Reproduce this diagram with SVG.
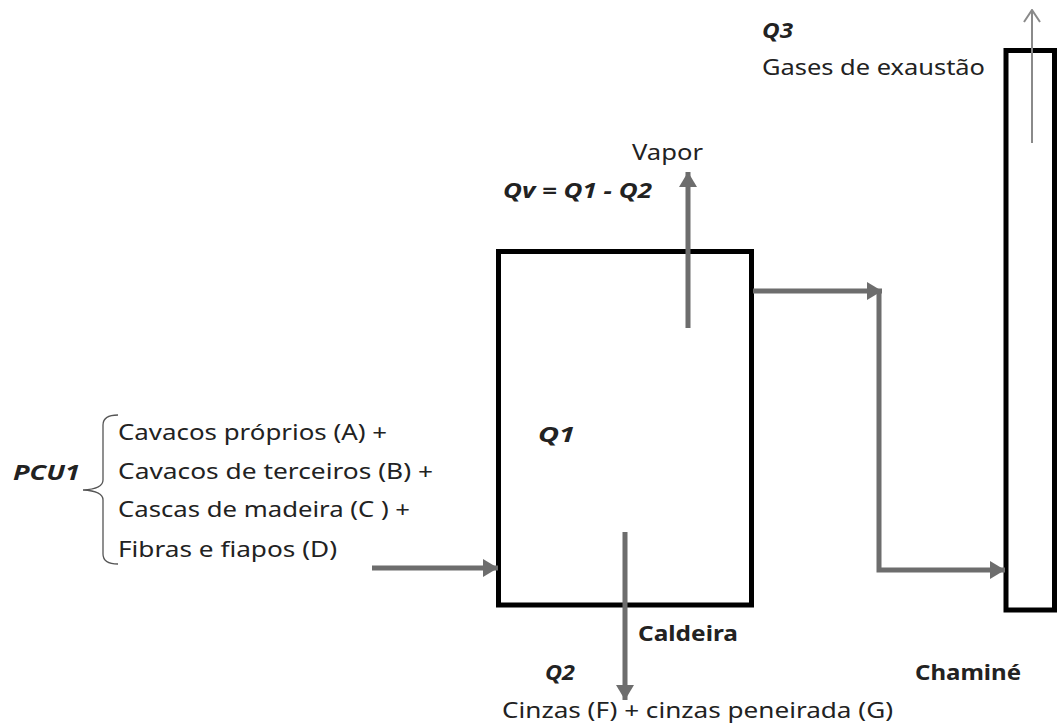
<svg xmlns="http://www.w3.org/2000/svg" width="1059" height="726" viewBox="0 0 1059 726">
<style>
text{font-family:"Noto Sans","Open Sans","DejaVu Sans",sans-serif;font-size:22px;fill:#222}
.b{font-weight:bold}
.bi{font-weight:bold;font-style:italic}
.box{fill:none;stroke:#000;stroke-width:5}
.flow{fill:none;stroke:#6d6d6d;stroke-width:5}
.thin{fill:none;stroke:#8a8a8a;stroke-width:2}
</style>
<defs>
<marker id="ah" markerUnits="userSpaceOnUse" markerWidth="18" markerHeight="18" viewBox="0 0 18 18" refX="15" refY="9" orient="auto">
<path d="M0,0 L15,9 L0,18 Z" fill="#6d6d6d"/>
</marker>
<marker id="oh" markerUnits="userSpaceOnUse" markerWidth="14" markerHeight="20" viewBox="0 0 14 20" refX="13" refY="10" orient="auto">
<path d="M1,2 L13,10 L1,18" fill="none" stroke="#8a8a8a" stroke-width="2"/>
</marker>
</defs>
<rect width="1059" height="726" fill="#fff"/>
<g id="caldeira">
<rect class="box" x="498.5" y="251.5" width="253" height="353.5"/>
<text x="538" y="442" class="bi" textLength="37" lengthAdjust="spacingAndGlyphs">Q1</text>
<text x="638" y="641" class="b" textLength="100" lengthAdjust="spacingAndGlyphs">Caldeira</text>
</g>
<g id="chamine">
<rect class="box" x="1006" y="50.5" width="48.5" height="559.5"/>
<text x="915" y="680" class="b" textLength="106" lengthAdjust="spacingAndGlyphs">Chaminé</text>
</g>
<g id="entrada">
<text x="13" y="480" class="bi" textLength="67" lengthAdjust="spacingAndGlyphs">PCU1</text>
<path d="M118,415 Q103,415 103,425 L103,480 Q103,489 83,490 Q103,491 103,500 L103,554 Q103,564 118,564" fill="none" stroke="#555" stroke-width="1.3"/>
<text x="118" y="440" textLength="269" lengthAdjust="spacingAndGlyphs">Cavacos próprios (A) +</text>
<text x="118" y="479" textLength="315" lengthAdjust="spacingAndGlyphs">Cavacos de terceiros (B) +</text>
<text x="118" y="517" textLength="292" lengthAdjust="spacingAndGlyphs">Cascas de madeira (C ) +</text>
<text x="118" y="557" textLength="219" lengthAdjust="spacingAndGlyphs">Fibras e fiapos (D)</text>
</g>
<g id="vapor">
<text x="632" y="160" textLength="71" lengthAdjust="spacingAndGlyphs">Vapor</text>
<text x="503" y="198" class="bi" textLength="149" lengthAdjust="spacingAndGlyphs">Qv = Q1 - Q2</text>
</g>
<g id="gases">
<text x="762" y="38" class="bi" textLength="31" lengthAdjust="spacingAndGlyphs">Q3</text>
<text x="762" y="75" textLength="223" lengthAdjust="spacingAndGlyphs">Gases de exaustão</text>
</g>
<g id="cinzas">
<text x="545" y="680" class="bi" textLength="30" lengthAdjust="spacingAndGlyphs">Q2</text>
<text x="502" y="718" textLength="391" lengthAdjust="spacingAndGlyphs">Cinzas (F) + cinzas peneirada (G)</text>
</g>
<g id="connectors">
<line class="flow" x1="372" y1="568" x2="498" y2="568" marker-end="url(#ah)"/>
<line class="flow" x1="688" y1="328" x2="688" y2="172" marker-end="url(#ah)"/>
<line class="flow" x1="625" y1="532" x2="625" y2="700" marker-end="url(#ah)"/>
<line class="flow" x1="753" y1="291" x2="882" y2="291" marker-end="url(#ah)"/>
<polyline class="flow" points="879,291 879,570 1005,570" marker-end="url(#ah)"/>
<line class="thin" x1="1032" y1="143" x2="1032" y2="10" marker-end="url(#oh)"/>
</g>
</svg>
